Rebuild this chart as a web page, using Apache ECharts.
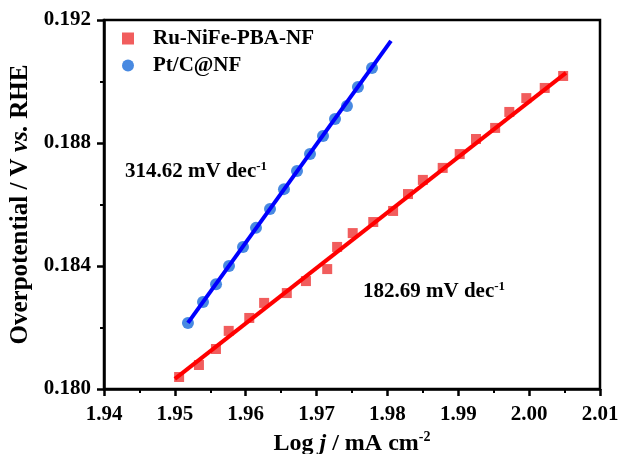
<!DOCTYPE html>
<html>
<head>
<meta charset="utf-8">
<script src="https://cdn.jsdelivr.net/npm/echarts@6/dist/echarts.min.js"></script>
<style>
html,body{margin:0;padding:0;background:#fff;}
#main{width:626px;height:454px;}
</style>
</head>
<body>
<div id="main"></div>
<script>
// ---- data ----
const xTicks = [1.94, 1.95, 1.96, 1.97, 1.98, 1.99, 2.00, 2.01];
const yTicks = [0.180, 0.184, 0.188, 0.192];

const ruX = [1.9506, 1.9534, 1.9558, 1.9576, 1.9605, 1.9626, 1.9658, 1.9685, 1.9715, 1.9729, 1.9751, 1.9780, 1.9808, 1.9829, 1.9850, 1.9878, 1.9902, 1.9925, 1.9952, 1.9972, 1.9996, 2.0022, 2.0048];
const ruY = [0.18039, 0.18078, 0.18130, 0.18189, 0.18231, 0.18280, 0.18312, 0.18351, 0.18390, 0.18462, 0.18507, 0.18543, 0.18579, 0.18634, 0.18680, 0.18719, 0.18764, 0.18813, 0.18849, 0.18901, 0.18946, 0.18979, 0.19018];

const ptX = [1.95185, 1.95397, 1.95581, 1.95764, 1.95962, 1.96145, 1.96343, 1.96540, 1.96724, 1.96907, 1.97091, 1.97260, 1.97429, 1.97584, 1.97782];
const ptY = [0.18215, 0.18283, 0.18341, 0.18400, 0.18462, 0.18524, 0.18585, 0.18650, 0.18709, 0.18764, 0.18823, 0.18878, 0.18920, 0.18982, 0.19044];

const ruFitX = [1.9500, 2.0052];
const ruFitY = [0.18033, 0.19028];
const ptFitX = [1.95185, 1.98050];
const ptFitY = [0.18215, 0.19132];

const seriesNames = ['Ru-NiFe-PBA-NF', 'Pt/C@NF'];
const slopeLabels = ['182.69', '314.62'];

// ---- chart ----
const FONT = "'Liberation Serif', 'Times New Roman', serif";
const zip = (a, b) => a.map((v, i) => [v, b[i]]);
const chart = echarts.init(document.getElementById('main'), null, {renderer: 'canvas'});

const axisLine = {show: true, lineStyle: {color: '#000', width: 2.5}};
const supRich = {
  n: {fontFamily: FONT, fontWeight: 'bold', fontSize: 21, fill: '#000', lineHeight: 24},
  s: {fontFamily: FONT, fontWeight: 'bold', fontSize: 13, fill: '#000', lineHeight: 12, verticalAlign: 'top'}
};
const option = {
  backgroundColor: '#fff',
  animation: false,
  grid: {left: 104, right: 26, top: 20, bottom: 65, containLabel: false, outerBoundsMode: 'none',
         show: true, borderColor: '#000', borderWidth: 2.5},
  xAxis: [{
    type: 'value', min: xTicks[0], max: xTicks[xTicks.length - 1], interval: 0.01,
    axisLine: axisLine,
    axisTick: {show: true, length: 7, lineStyle: {width: 2.5, color: '#000'}},
    minorTick: {show: true, splitNumber: 2, length: 4, lineStyle: {width: 2, color: '#000'}},
    splitLine: {show: false},
    axisLabel: {color: '#000', fontFamily: FONT, fontWeight: 'bold', fontSize: 21, margin: 15,
      formatter: v => v.toFixed(2)},
    name: '{n|Log }{i|j}{n| / mA cm}{s|-2}', nameLocation: 'middle', nameGap: 27,
    nameTextStyle: {rich: {
      n: {fontFamily: FONT, fontWeight: 'bold', fontSize: 24, color: '#000', lineHeight: 28},
      i: {fontFamily: FONT, fontWeight: 'bold', fontStyle: 'italic', fontSize: 24, color: '#000', lineHeight: 28},
      s: {fontFamily: FONT, fontWeight: 'bold', fontSize: 14, color: '#000', lineHeight: 14, verticalAlign: 'top'}
    }}
  }],
  yAxis: [{
    type: 'value', min: yTicks[0], max: yTicks[yTicks.length - 1], interval: 0.004,
    axisLine: axisLine,
    axisTick: {show: true, length: 7, lineStyle: {width: 2.5, color: '#000'}},
    minorTick: {show: true, splitNumber: 2, length: 4, lineStyle: {width: 2, color: '#000'}},
    splitLine: {show: false},
    axisLabel: {color: '#000', fontFamily: FONT, fontWeight: 'bold', fontSize: 21, margin: 13,
      formatter: v => v.toFixed(3)},
    name: '{n|Overpotential / V }{i|vs.}{n| RHE}', nameLocation: 'middle', nameGap: 63, nameRotate: 90,
    nameTextStyle: {rich: {
      n: {fontFamily: FONT, fontWeight: 'bold', fontSize: 25, color: '#000'},
      i: {fontFamily: FONT, fontWeight: 'bold', fontStyle: 'italic', fontSize: 25, color: '#000'}
    }}
  }],
  legend: {
    orient: 'vertical', left: 117, top: 23, itemWidth: 12, itemHeight: 12, itemGap: 6,
    data: [{name: seriesNames[0], icon: 'rect'}, {name: seriesNames[1], icon: 'circle'}],
    textStyle: {fontFamily: FONT, fontWeight: 'bold', fontSize: 21, color: '#000', lineHeight: 21, padding: [0, 0, 0, 14]}
  },
  graphic: [
    {type: 'text', left: 125, top: 160, style: {text: '{n|' + slopeLabels[1] + ' mV dec}{s|-1}', rich: supRich}},
    {type: 'text', left: 363, top: 280, style: {text: '{n|' + slopeLabels[0] + ' mV dec}{s|-1}', rich: supRich}}
  ],
  series: [
    {name: seriesNames[0], type: 'scatter', symbol: 'rect', symbolSize: 10, z: 2,
     itemStyle: {color: '#EE3535'}, data: zip(ruX, ruY)},
    {name: seriesNames[1], type: 'scatter', symbol: 'circle', symbolSize: 12, z: 2,
     itemStyle: {color: '#1A6BDA'}, data: zip(ptX, ptY)},
    {name: 'fit1', type: 'line', symbol: 'none', z: 3, lineStyle: {color: '#FF0000', width: 4},
     data: zip(ruFitX, ruFitY)},
    {name: 'fit2', type: 'line', symbol: 'none', z: 3, lineStyle: {color: '#0000FF', width: 4},
     data: zip(ptFitX, ptFitY)}
  ]
};
chart.setOption(option);
</script>
</body>
</html>
